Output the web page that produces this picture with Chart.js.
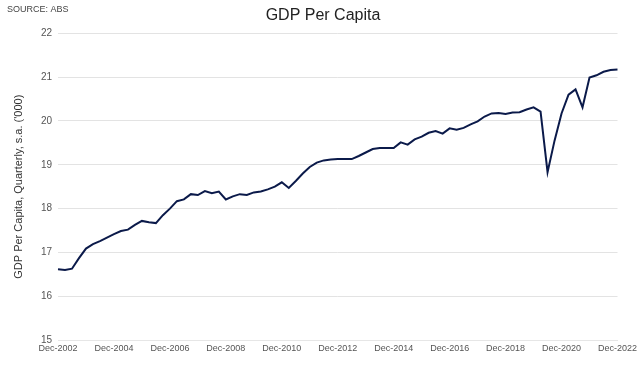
<!DOCTYPE html>
<html>
<head>
<meta charset="utf-8">
<script src="https://cdn.jsdelivr.net/npm/chart.js@4.4.0/dist/chart.umd.min.js"></script>
<style>
  html, body { margin: 0; padding: 0; background: #fff; }
  #wrap { width: 640px; height: 377px; position: relative; }
</style>
</head>
<body>
<div id="wrap"><canvas id="gdpChart"></canvas></div>
<script>
// Quarterly GDP per capita, s.a. ('000), Dec-2002 .. Dec-2022
const startYear = 2002;
const quarterMonths = ['Dec', 'Mar', 'Jun', 'Sep'];
const gdpPerCapita = [
  16.62, 16.60, 16.63, 16.87, 17.09, 17.19, 17.26, 17.34, 17.42, 17.49,
  17.52, 17.63, 17.72, 17.69, 17.67, 17.85, 18.00, 18.17, 18.21, 18.33,
  18.31, 18.40, 18.35, 18.39, 18.21, 18.28, 18.33, 18.31, 18.37, 18.39,
  18.44, 18.50, 18.60, 18.47, 18.63, 18.80, 18.95, 19.05, 19.10, 19.12,
  19.13, 19.13, 19.13, 19.20, 19.28, 19.36, 19.38, 19.38, 19.38, 19.51,
  19.46, 19.58, 19.64, 19.73, 19.77, 19.71, 19.83, 19.80, 19.84, 19.92,
  19.99, 20.10, 20.17, 20.18, 20.16, 20.19, 20.20, 20.26, 20.31, 20.21,
  18.83, 19.55, 20.17, 20.60, 20.72, 20.31, 20.99, 21.04, 21.12, 21.16,
  21.17
];
const yTicks = [15, 16, 17, 18, 19, 20, 21, 22];

// quarter labels: Dec-2002, Mar-2003, ...
const quarters = gdpPerCapita.map((v, i) => {
  const m = quarterMonths[i % 4];
  const y = startYear + Math.ceil(i / 4);
  return m + '-' + y;
});

const sourceNote = {
  id: 'sourceNote',
  afterDraw(chart) {
    const ctx = chart.ctx;
    ctx.save();
    ctx.font = '9px "Liberation Sans", Arial, sans-serif';
    ctx.fillStyle = '#444';
    ctx.textBaseline = 'middle';
    ctx.fillText('SOURCE: ABS', 7, 10);
    ctx.restore();
  }
};

new Chart(document.getElementById('gdpChart'), {
  type: 'line',
  data: {
    labels: quarters,
    datasets: [{
      label: 'GDP Per Capita',
      data: gdpPerCapita,
      borderColor: '#0b1a4a',
      borderWidth: 2,
      pointRadius: 0,
      tension: 0,
      fill: false
    }]
  },
  options: {
    responsive: true,
    maintainAspectRatio: false,
    animation: false,
    layout: { padding: { top: 0, right: 6, bottom: 20, left: 12 } },
    plugins: {
      legend: { display: false },
      tooltip: { enabled: false },
      title: {
        display: true,
        text: 'GDP Per Capita',
        color: '#222',
        font: { family: '"Liberation Sans", Arial, sans-serif', size: 16, weight: 'normal' },
        padding: { top: 6, bottom: 8 }
      }
    },
    scales: {
      x: {
        grid: { display: false, drawTicks: false },
        border: { color: '#e6e6e6' },
        ticks: {
          autoSkip: false,
          maxRotation: 0,
          padding: 3,
          color: '#555',
          font: { family: '"Liberation Sans", Arial, sans-serif', size: 9 },
          callback: (val, i) => (i % 8 === 0 ? quarters[i] : null)
        }
      },
      y: {
        min: 15,
        max: 22,
        afterBuildTicks: axis => { axis.ticks = yTicks.map(v => ({ value: v })); },
        afterFit: axis => { axis.width = 46; },
        grid: { color: '#e3e3e3', drawTicks: false },
        border: { display: false },
        ticks: {
          padding: 6,
          color: '#555',
          font: { family: '"Liberation Sans", Arial, sans-serif', size: 10 }
        },
        title: {
          display: true,
          text: "GDP Per Capita, Quarterly, s.a. ('000)",
          color: '#333',
          font: { family: '"Liberation Sans", Arial, sans-serif', size: 11 },
          padding: 0
        }
      }
    }
  },
  plugins: [sourceNote]
});
</script>
</body>
</html>
